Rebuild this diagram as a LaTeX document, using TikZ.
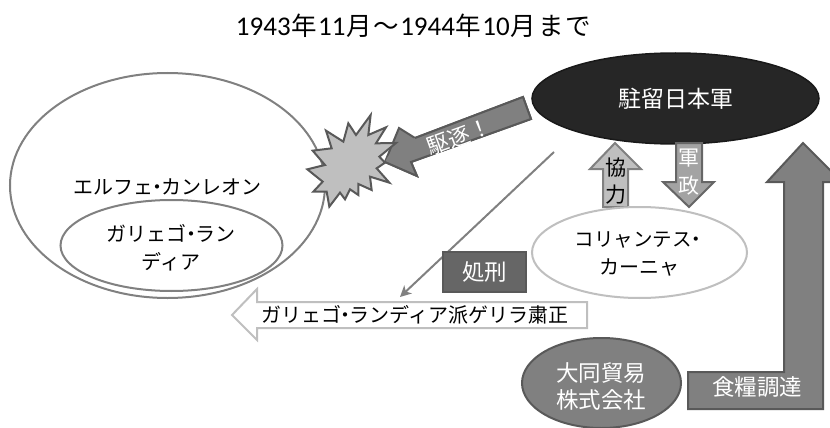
\documentclass[tikz,border=0pt]{standalone}
\usepackage{fontspec}
\usetikzlibrary{shapes.geometric,arrows.meta}
\newfontfamily\cjk{Noto Sans CJK JP}
\newfontfamily\latinnum{Carlito}
\newcommand{\nkdot}{\makebox[0.42em][c]{・}}
\newcommand{\fsz}[1]{\fontsize{#1}{#1}\selectfont}
\newcommand{\tch}[1]{\makebox[27.4pt][c]{#1}}
\newcommand{\tnum}[1]{{\latinnum\fsz{27}#1}}
\definecolor{gA}{HTML}{808080}
\definecolor{gB}{HTML}{595959}
\definecolor{gC}{HTML}{BFBFBF}
\definecolor{gD}{HTML}{262626}
\definecolor{gE}{HTML}{666666}
\tikzset{
  every node/.style={font=\cjk\fsz{20}, inner sep=0pt},
  plainell/.style={ellipse, draw=gA, line width=2pt, fill=white},
  lightell/.style={ellipse, draw=gC, line width=2pt, fill=white},
  darkell/.style={ellipse, draw=black!90, line width=1.5pt, fill=gD, text=white},
  midell/.style={ellipse, draw=gB, line width=2pt, fill=gA, text=white},
  darkblock/.style={draw=gB, line width=2pt, fill=gA, line join=miter},
  upblock/.style={draw=gA, line width=2pt, fill=gC, line join=miter},
  downblock/.style={draw=gE, line width=2pt, fill=black!36, line join=miter},
  hollowblock/.style={draw=gC, line width=2pt, fill=white, line join=miter},
  starshape/.style={draw=gB, line width=2pt, fill=gC, line join=miter},
  thinline/.style={draw=gA, line width=2pt, -{Stealth[length=11pt,width=11pt,inset=3pt]}},
  boxlabel/.style={rectangle, draw=gB, line width=1.5pt, fill=gE, text=white},
  twoline/.style={align=center}
}
\begin{document}
\begin{tikzpicture}[x=1pt,y=-1pt]
\useasboundingbox (0,0) rectangle (830,428);
% title
\node (title) at (414,26) {\fsz{25.5}\tnum{1943}\tch{年}\tnum{11}\tch{月}\tch{～}\tnum{1944}\tch{年}\tnum{10}\tch{月}\tch{ま}\tch{で}};
% left ellipses
\node[plainell, minimum width=315pt, minimum height=225pt] (elfe) at (167.5,185.5) {};
\node (elfetext) at (167.5,187) {エルフェ\nkdot カンレオン};
\node[plainell, minimum width=222pt, minimum height=91pt] (galle) at (171.5,245.5) {};
\node (galletext) at (171,233) {ガリェゴ\nkdot ラン};
\node (galletexttwo) at (171,262) {ディア};
% black ellipse
\node[darkell, minimum width=287pt, minimum height=91pt, font=\cjk\fsz{23}] (japan) at (675.5,98.5) {\raisebox{-2pt}{駐留日本軍}};
% expel arrow, head corner behind star
\coordinate (exTip) at (385,162);
\draw[darkblock] (exTip) -- (399,128) -- (415,138) -- (523,97) -- (531,119) -- (411,162) -- (417,176) -- cycle;
% star
\draw[starshape, shift={(300,40)}, x=0.3333pt, y=-0.3333pt]
  (212,225) -- (205,285) -- (258,262) -- (228,310) -- (288,309) -- (238,350) -- (255,368) -- (230,385)
  -- (268,428) -- (210,410) -- (215,450) -- (175,432) -- (175,465) -- (150,448) -- (135,478) -- (120,458)
  -- (88,500) -- (80,455) -- (40,455) -- (68,425) -- (22,388) -- (75,375) -- (38,332) -- (95,325)
  -- (78,272) -- (130,305) -- (145,250) -- (168,285) -- cycle;
\fill[gA] (exTip) .. controls (390,150) and (400,145) .. (415,138) -- (523,97) -- (531,119) -- (411,162) -- (417,176) -- cycle;
\draw[gB, line width=2pt, line join=miter] (exTip) -- (417,176) -- (411,162) -- (531,119) -- (523,97) -- (415,138);
\node[rotate=20, text=white, font=\cjk\fsz{22}] (expel) at (459,137) {駆逐！};
% up arrow
\draw[upblock] (603,207) -- (603,169) -- (590,169) -- (615,143) -- (641,169) -- (628,169) -- (628,207) -- cycle;
\node[font=\cjk\fsz{21}] (kyo) at (616,168) {協};
\node[font=\cjk\fsz{21}] (ryoku) at (616,195) {力};
% down arrow
\draw[downblock] (676,143) -- (702,143) -- (702,182) -- (714,182) -- (689,207) -- (663,182) -- (676,182) -- cycle;
\node[text=white, font=\cjk\fsz{21}] (gun) at (689,158) {軍};
\node[text=white, font=\cjk\fsz{21}] (sei) at (689,186) {政};
% coriantes
\node[lightell, minimum width=215pt, minimum height=91pt] (corr) at (639.5,252.5) {};
\node[font=\cjk\fsz{19.5}] (corrtext) at (637.5,240) {コリャンテス\nkdot};
\node (corrtexttwo) at (639,268) {カーニャ};
% hollow arrow
\draw[hollowblock] (232,315) -- (257,289) -- (257,302) -- (587,302) -- (587,328) -- (257,328) -- (257,340) -- cycle;
\node (purge) at (414.5,315) {ガリェゴ\nkdot ランディア派ゲリラ粛正};
% execution line
\coordinate (lineStart) at (554,152);
\coordinate (lineEnd) at (400,297);
\draw[thinline] (lineStart) -- (lineEnd);
\node[boxlabel, minimum width=83pt, minimum height=40pt, font=\cjk\fsz{22.5}] (shokei) at (484.5,272) {処刑};
% big arrow
\draw[darkblock] (688,409) -- (688,372) -- (784,372) -- (784,182) -- (767,182) -- (803,143) -- (842,182) -- (823,182) -- (823,409) -- cycle;
\node[text=white, font=\cjk\fsz{22.5}] (food) at (757,387) {食糧調達};
% daido
\node[midell, minimum width=159pt, minimum height=90pt] (daido) at (601.5,383) {};
\node[text=white, font=\cjk\fsz{22.5}] (daidoa) at (601,373) {大同貿易};
\node[text=white, font=\cjk\fsz{22.5}] (daidob) at (601,400) {株式会社};
\end{tikzpicture}
\end{document}
